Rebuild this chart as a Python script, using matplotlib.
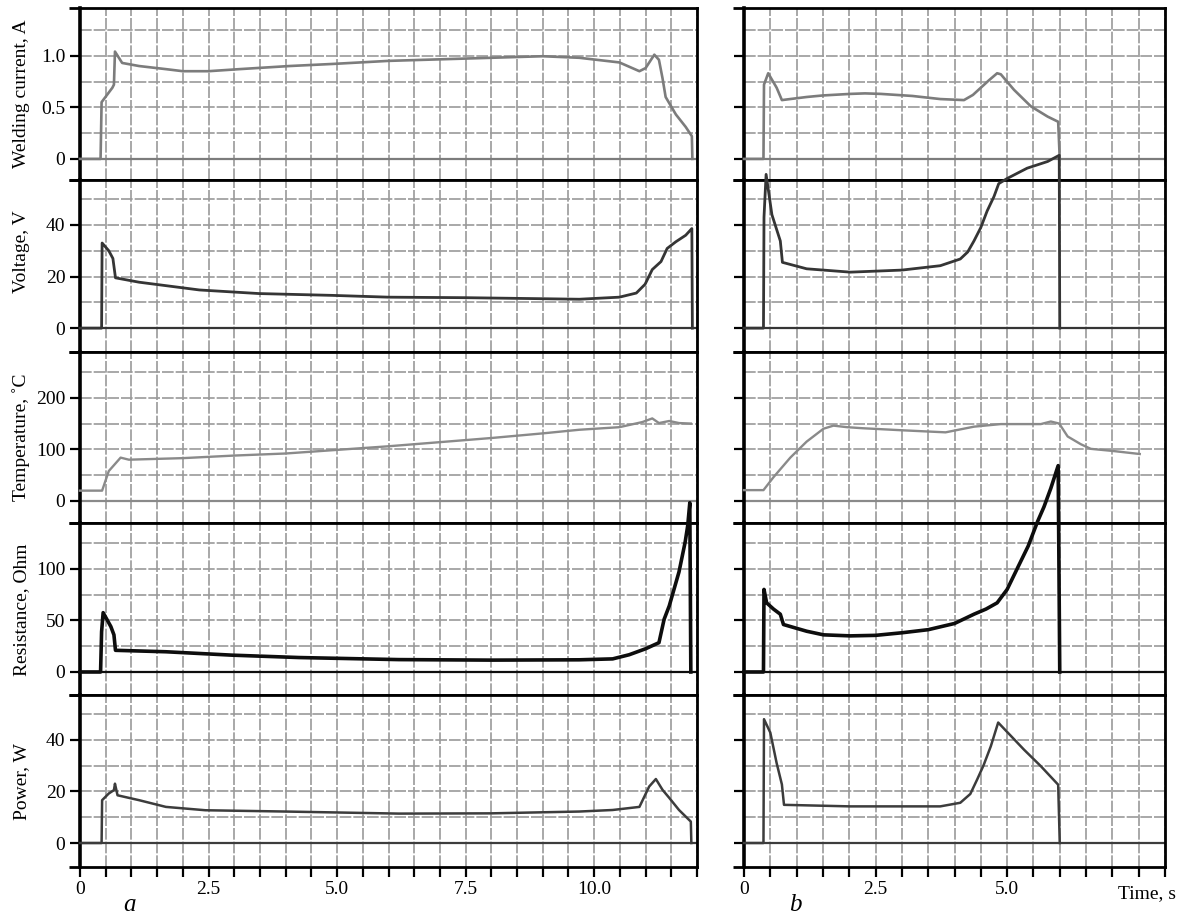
import matplotlib
matplotlib.use("Agg")
import matplotlib.pyplot as plt
from matplotlib.ticker import MultipleLocator, FixedLocator, FuncFormatter

plt.rcParams['font.family'] = ['Liberation Serif', 'DejaVu Serif']

# ---- series a (left column) ----
t_cur_a = [0, 0.40, 0.42, 0.63, 0.66, 0.68, 0.82, 1.15, 1.67, 2.0, 2.5, 3.1, 4.07, 4.9, 6.0, 7.0,
           8.0, 9.0, 9.71, 10.49, 10.88, 11.0, 11.17, 11.26, 11.33, 11.39, 11.59, 11.78, 11.9, 11.91]
cur_a = [0, 0, 0.55, 0.69, 0.72, 1.04, 0.93, 0.90, 0.87, 0.85, 0.85, 0.87, 0.90, 0.92, 0.95, 0.965,
         0.98, 0.995, 0.98, 0.935, 0.85, 0.88, 1.01, 0.96, 0.78, 0.60, 0.43, 0.31, 0.22, 0]

t_volt_a = [0, 0.42, 0.43, 0.56, 0.64, 0.66, 0.69, 1.15, 2.32, 3.48, 4.9, 6.0, 7.5, 9.0, 9.71,
            10.49, 10.82, 10.99, 11.13, 11.3, 11.42, 11.59, 11.78, 11.9, 11.91]
volt_a = [0, 0, 33, 30, 27, 24, 19.5, 17.8, 14.8, 13.4, 12.7, 12, 11.8, 11.4, 11.2,
          12, 13.6, 17, 22.7, 25.8, 30.9, 33.5, 36, 38.6, 0]

t_temp_a = [0, 0.43, 0.56, 0.79, 0.95, 2.0, 3.0, 4.0, 5.0, 6.0, 7.0, 8.0, 9.0, 9.71, 10.49,
            10.94, 11.13, 11.26, 11.46, 11.65, 11.88]
temp_a = [20, 20, 58, 84, 80, 83, 88, 92, 99, 106, 114, 122, 131, 138, 143,
          153, 160, 151, 155, 151, 150]

t_res_a = [0, 0.40, 0.42, 0.45, 0.60, 0.66, 0.69, 1.67, 2.96, 4.26, 6.2, 8.0, 9.71, 10.36,
           10.68, 11.0, 11.26, 11.36, 11.46, 11.65, 11.77, 11.82, 11.86, 11.88]
res_a = [0, 0, 39, 57.5, 44, 36, 21, 19.6, 16.3, 14, 12, 11.5, 11.8, 12.7,
         16.7, 22.5, 28.4, 51, 64, 97, 126, 142, 164, 0]

t_pow_a = [0, 0.42, 0.43, 0.56, 0.66, 0.68, 0.73, 1.15, 1.67, 2.44, 4.0, 6.2, 8.0, 9.71,
           10.36, 10.88, 11.07, 11.2, 11.33, 11.46, 11.65, 11.88, 11.89]
pow_a = [0, 0, 16.6, 19.2, 20.5, 23, 18.5, 16.6, 14, 12.7, 12.2, 11.4, 11.5, 12.2,
         12.8, 14, 21.9, 24.8, 20.6, 17.5, 12.8, 8.3, 0]

# ---- series b (right column) ----
t_cur_b = [0, 0.37, 0.38, 0.46, 0.62, 0.72, 1.19, 1.5, 2.02, 2.3, 2.6, 3.2, 3.73, 4.18, 4.35,
           4.5, 4.65, 4.81, 4.88, 5.13, 5.45, 5.77, 5.97, 6.0]
cur_b = [0, 0, 0.72, 0.83, 0.69, 0.57, 0.60, 0.615, 0.63, 0.635, 0.63, 0.61, 0.58, 0.57, 0.62,
         0.69, 0.76, 0.83, 0.82, 0.67, 0.51, 0.41, 0.36, 0]

t_volt_b = [0, 0.37, 0.38, 0.42, 0.53, 0.69, 0.73, 1.19, 2.02, 3.0, 3.73, 4.11, 4.25, 4.37,
            4.5, 4.62, 4.75, 4.84, 5.0, 5.38, 5.77, 5.99, 6.0]
volt_b = [0, 0, 43, 59.6, 44, 33.8, 25.5, 23, 21.7, 22.5, 24.2, 26.8, 29.5, 33.8,
          39, 45.4, 51, 56, 58, 62, 64.6, 67, 0]

t_temp_b = [0, 0.37, 0.56, 0.88, 1.19, 1.51, 1.70, 1.96, 2.25, 3.0, 3.83, 4.37, 4.88, 5.64,
            5.83, 5.99, 6.15, 6.4, 6.59, 7.0, 7.52]
temp_b = [21, 21, 46, 84, 115, 140, 146, 143, 141, 137, 133, 144, 149, 149,
          154, 150, 125, 110, 101, 97, 91]

t_res_b = [0, 0.37, 0.38, 0.43, 0.56, 0.69, 0.75, 1.19, 1.51, 2.02, 2.5, 3.0, 3.5, 4.0, 4.37,
           4.6, 4.81, 5.0, 5.19, 5.4, 5.58, 5.7, 5.83, 5.97, 6.0]
res_b = [0, 0, 80, 67, 61, 56, 46, 39.5, 36, 35, 35.5, 38, 41, 47, 56,
         61, 67, 80, 100, 122, 146, 160, 178, 200, 0]

t_pow_b = [0, 0.37, 0.38, 0.5, 0.62, 0.72, 0.76, 2.02, 3.73, 4.11, 4.3, 4.43, 4.55, 4.69, 4.83,
           5.32, 5.64, 5.97, 6.0]
pow_b = [0, 0, 48, 42.8, 31, 22.7, 14.8, 14.2, 14.2, 15.6, 19, 24.6, 30, 37.5, 46.7,
         36.2, 29.8, 22.6, 0]

# panel definitions: label, grid step, labelled ticks
ylabels = ["Welding current, A", "Voltage, V", "Temperature, \u02daC", "Resistance, Ohm", "Power, W"]
grid_steps = [0.25, 10, 50, 25, 10]
yticks = [[0, 0.5, 1.0], [0, 20, 40], [0, 100, 200], [0, 50, 100], [0, 20, 40]]
yticklabels = [["0", "0.5", "1.0"], ["0", "20", "40"], ["0", "100", "200"],
               ["0", "50", "100"], ["0", "20", "40"]]

series_a = [(t_cur_a, cur_a), (t_volt_a, volt_a), (t_temp_a, temp_a), (t_res_a, res_a), (t_pow_a, pow_a)]
series_b = [(t_cur_b, cur_b), (t_volt_b, volt_b), (t_temp_b, temp_b), (t_res_b, res_b), (t_pow_b, pow_b)]

line_colors = ['#7c7c7c', '#353535', '#8a8a8a', '#0d0d0d', '#3c3c3c']
line_widths = [1.9, 2.0, 1.7, 2.6, 1.8]
zero_offsets = [-0.81, -0.91, -0.87, -0.90, -0.93]   # bottom of each panel, in grid units

W, H = 1180, 916
top_px, bot_px = 8, 867
panel_h = (bot_px - top_px) / 5
span_units = 6.66

fig = plt.figure(figsize=(11.8, 9.16), dpi=100)


def time_formatter(skip):
    def f(v, pos):
        k = v / 2.5
        if abs(k - round(k)) > 1e-6 or round(k) in skip:
            return ""
        return "0" if abs(v) < 1e-9 else f"{v:.1f}"
    return FuncFormatter(f)


def make_column(x0, x1, xmax, series, with_labels, skip):
    axes = []
    for row in range(5):
        y_top = top_px + row * panel_h
        ax = fig.add_axes([x0 / W, 1 - (y_top + panel_h) / H, (x1 - x0) / W, panel_h / H])
        g = grid_steps[row]
        lo = zero_offsets[row] * g
        ax.set_xlim(0, xmax)
        ax.set_ylim(lo, lo + span_units * g)

        ax.xaxis.set_major_locator(MultipleLocator(0.5))
        ax.yaxis.set_major_locator(FixedLocator(yticks[row]))
        ax.yaxis.set_minor_locator(MultipleLocator(g))
        ax.grid(True, which='both', color='#9a9a9a', lw=1.2, ls=(0, (7, 1.2)), zorder=1)
        ax.set_axisbelow(True)

        ax.tick_params(axis='y', which='major', direction='out', length=7.5, width=1.6,
                       labelsize=14, pad=3)
        ax.tick_params(axis='y', which='minor', length=0)
        if with_labels:
            ax.set_yticklabels(yticklabels[row])
            ax.set_ylabel(ylabels[row], fontsize=14)
            ax.yaxis.set_label_coords(-0.081, 0.58 if row == 1 else 0.5)
        else:
            ax.set_yticklabels([])

        if row == 4:
            ax.tick_params(axis='x', direction='out', length=7, width=1.6, labelsize=14, pad=3)
            ax.xaxis.set_major_formatter(time_formatter(skip))
        else:
            ax.tick_params(axis='x', length=0, labelbottom=False)

        for s in ax.spines.values():
            s.set_linewidth(2.0)
            s.set_color('black')
        ax.spines['left'].set_linewidth(2.6)

        # boundary stubs left of the spine
        for yy in (0, 1):
            ax.plot([-0.018 * 617 / (x1 - x0), 0], [yy, yy], transform=ax.transAxes,
                    color='black', lw=2.0, clip_on=False, solid_capstyle='butt')

        ax.axhline(0, color=line_colors[row], lw=1.6, zorder=2)
        t, v = series[row]
        ax.plot(t, v, color=line_colors[row], lw=line_widths[row], zorder=3, clip_on=False)
        axes.append(ax)
    return axes


axes_a = make_column(80, 697, 12.0, series_a, True, ())
axes_b = make_column(744, 1165, 8.0, series_b, False, (3,))

axes_b[4].text(7.65, -0.105, "Time, s", transform=axes_b[4].get_xaxis_transform(),
               ha='center', va='top', fontsize=14)

fig.text(130 / W, 1 - 905 / H, "a", fontsize=18, style='italic', ha='center', va='center')
fig.text(795 / W, 1 - 905 / H, "b", fontsize=18, style='italic', ha='center', va='center')

fig.savefig("out.png", dpi=100)
